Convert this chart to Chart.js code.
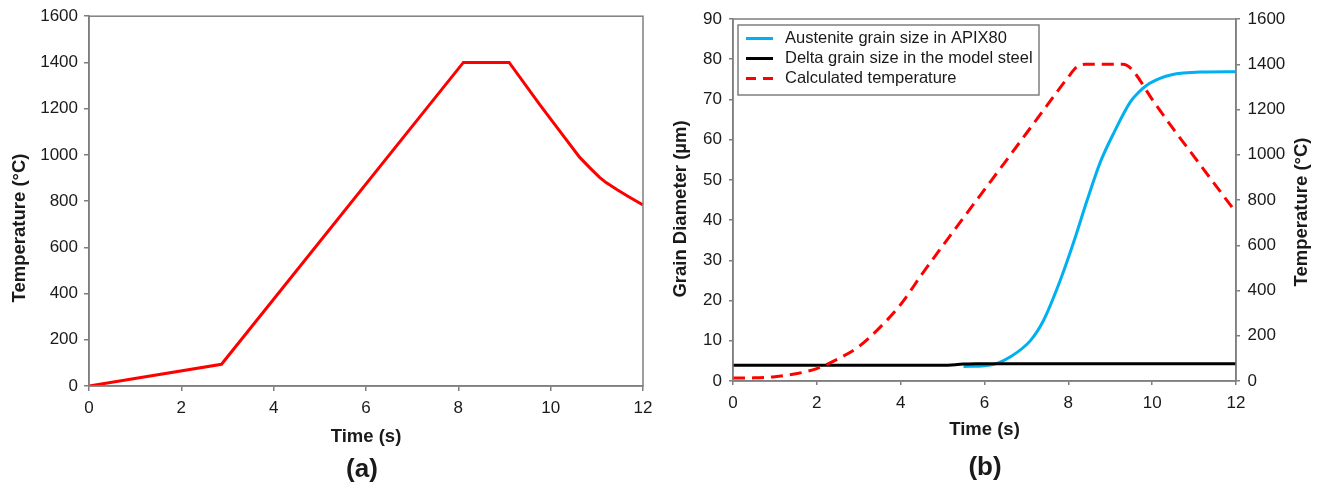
<!DOCTYPE html>
<html>
<head>
<meta charset="utf-8">
<script src="https://cdn.jsdelivr.net/npm/chart.js@4.4.1/dist/chart.umd.min.js"></script>
<style>
  html, body { margin: 0; padding: 0; background: #fff; }
  #wrap { position: relative; width: 1324px; height: 489px; }
  canvas { position: absolute; top: 0; }
  #chartA { left: 0; }
  #chartB { left: 660px; }
</style>
</head>
<body>
<div id="wrap">
  <canvas id="chartA" width="660" height="489"></canvas>
  <canvas id="chartB" width="664" height="489"></canvas>
</div>
<script>
// (a) imposed thermal cycle
const timeA = [0, 2.87, 8.11, 9.10, 9.76, 10.30, 10.63, 10.85, 11.06, 11.20, 11.45, 11.70, 12.0]
const tempA = [0, 94, 1400, 1400, 1219, 1076, 989, 944, 903, 880, 848, 818, 783]

// (b) calculated temperature (right axis)
const timeTemp = [0, 0.5, 1.0, 1.5, 2.0, 2.5, 3.0, 3.5, 4.0, 4.5, 5.0, 5.5, 6.0, 6.5, 7.0, 7.5, 8.0, 8.2, 8.4, 9.3, 9.5, 10.0, 10.5, 11.0, 11.5, 12.0]
const tempB = [13, 14, 19, 32, 55, 97, 152, 236, 338, 470, 597, 722, 846, 970, 1095, 1220, 1344, 1388, 1400, 1400, 1380, 1245, 1115, 992, 868, 745]

// (b) austenite grain size in APIX80 (left axis)
const timeGamma = [5.5, 6.0, 6.3, 6.62, 7.1, 7.41, 7.81, 8.13, 8.45, 8.77, 9.1, 9.48, 9.7, 9.88, 10.2, 10.44, 11.15, 12.0]
const sizeGamma = [3.6, 3.8, 4.4, 6.0, 10.1, 15.1, 25.1, 34.6, 45.0, 54.6, 62.0, 69.4, 72.0, 73.6, 75.3, 76.1, 76.8, 76.9]

// (b) delta grain size in the model steel (left axis)
const timeDelta = [0, 5.0, 5.5, 5.8, 12.0]
const sizeDelta = [3.9, 3.9, 4.2, 4.3, 4.3]

const timeTicks = { min: 0, max: 12, step: 2 }
const tempTicks = { min: 0, max: 1600, step: 200 }
const sizeTicks = { min: 0, max: 90, step: 10 }

const FONT = "'Liberation Sans', Arial, sans-serif"
const AXIS_GRAY = '#7f7f7f'
const INK = '#1a1a1a'

const pts = (xs, ys) => xs.map((x, i) => ({ x, y: ys[i] }))

const linearAxis = (range, tickLength, padding) => ({
  type: 'linear',
  min: range.min,
  max: range.max,
  ticks: {
    stepSize: range.step,
    padding,
    color: INK,
    font: { family: FONT, size: 17 },
    callback: (v) => String(v),
  },
  grid: { drawOnChartArea: false, drawTicks: true, tickLength, color: AXIS_GRAY, lineWidth: 1.5 },
  border: { color: AXIS_GRAY, width: 1.5 },
})

const timeTitle = (bottom) => ({
  display: true,
  text: 'Time (s)',
  color: INK,
  font: { family: FONT, size: 18.5, weight: 'bold' },
  padding: { top: 0, bottom },
})

// box around the plot area (top and right edges are not axes)
const plotFrame = {
  id: 'plotFrame',
  afterDraw(chart) {
    const { ctx, chartArea: a } = chart
    ctx.save()
    ctx.strokeStyle = AXIS_GRAY
    ctx.lineWidth = 1.5
    ctx.strokeRect(a.left, a.top, a.right - a.left, a.bottom - a.top)
    ctx.restore()
  },
}

// free text: rotated axis titles and panel letters
const sideText = {
  id: 'sideText',
  afterDraw(chart, args, opts) {
    const ctx = chart.ctx
    for (const it of opts.items || []) {
      ctx.save()
      ctx.translate(it.x, it.y)
      ctx.rotate(it.rotation || 0)
      ctx.font = `bold ${it.size}px ${FONT}`
      ctx.fillStyle = INK
      ctx.textAlign = 'center'
      ctx.textBaseline = 'middle'
      ctx.fillText(it.text, 0, 0)
      ctx.restore()
    }
  },
}

// framed legend in the upper left of the plot
const boxedLegend = {
  id: 'boxedLegend',
  afterDatasetsDraw(chart, args, opts) {
    const ctx = chart.ctx
    ctx.save()
    ctx.fillStyle = '#fff'
    ctx.fillRect(opts.x, opts.y, opts.width, opts.height)
    ctx.strokeStyle = AXIS_GRAY
    ctx.lineWidth = 1.5
    ctx.strokeRect(opts.x, opts.y, opts.width, opts.height)
    ctx.font = `${opts.fontSize}px ${FONT}`
    ctx.textBaseline = 'middle'
    chart.data.datasets.forEach((ds, i) => {
      const y = opts.y + opts.firstRow + i * opts.rowGap
      ctx.beginPath()
      ctx.setLineDash(ds.borderDash ? opts.sampleDash : [])
      ctx.strokeStyle = ds.borderColor
      ctx.lineWidth = ds.borderWidth
      ctx.moveTo(opts.sampleX, y)
      ctx.lineTo(opts.sampleX + opts.sampleLen, y)
      ctx.stroke()
      ctx.fillStyle = INK
      ctx.fillText(ds.label, opts.textX, y)
    })
    ctx.restore()
  },
}

new Chart(document.getElementById('chartA'), {
  type: 'line',
  data: {
    datasets: [
      {
        label: 'Temperature',
        data: pts(timeA, tempA),
        borderColor: '#ff0000',
        borderWidth: 3,
        pointRadius: 0,
        tension: 0,
        fill: false,
      },
    ],
  },
  options: {
    responsive: false,
    animation: false,
    layout: { padding: { left: 0, right: 17, top: 15, bottom: 0 } },
    plugins: {
      legend: { display: false },
      tooltip: { enabled: false },
      sideText: {
        items: [
          { text: 'Temperature (°C)', x: 20, y: 228, rotation: -Math.PI / 2, size: 18.5 },
          { text: '(a)', x: 362, y: 470, size: 26 },
        ],
      },
    },
    scales: {
      x: {
        ...linearAxis(timeTicks, 5, 7),
        title: timeTitle(41),
        afterFit: (s) => { s.height = 103 },
      },
      y: {
        ...linearAxis(tempTicks, 5, 6),
        afterFit: (s) => { s.width = 89 },
      },
    },
  },
  plugins: [plotFrame, sideText],
})

new Chart(document.getElementById('chartB'), {
  type: 'line',
  data: {
    datasets: [
      {
        label: 'Austenite grain size in APIX80',
        data: pts(timeGamma, sizeGamma),
        yAxisID: 'y',
        borderColor: '#00b0f0',
        borderWidth: 3,
        pointRadius: 0,
        cubicInterpolationMode: 'monotone',
        fill: false,
        order: 2,
      },
      {
        label: 'Delta grain size in the model steel',
        data: pts(timeDelta, sizeDelta),
        yAxisID: 'y',
        borderColor: '#000000',
        borderWidth: 3,
        pointRadius: 0,
        cubicInterpolationMode: 'monotone',
        fill: false,
        order: 1,
      },
      {
        label: 'Calculated temperature',
        data: pts(timeTemp, tempB),
        yAxisID: 'y1',
        borderColor: '#ff0000',
        borderWidth: 3,
        borderDash: [12, 7],
        pointRadius: 0,
        cubicInterpolationMode: 'monotone',
        fill: false,
        order: 0,
      },
    ],
  },
  options: {
    responsive: false,
    animation: false,
    layout: { padding: { left: 0, right: 0, top: 19, bottom: 0 } },
    plugins: {
      legend: { display: false },
      tooltip: { enabled: false },
      boxedLegend: {
        x: 78, y: 25, width: 301, height: 70,
        firstRow: 13.5, rowGap: 20,
        sampleX: 86, sampleLen: 27, sampleDash: [10, 7],
        textX: 125, fontSize: 16.5,
      },
      sideText: {
        items: [
          { text: 'Grain Diameter (µm)', x: 20.5, y: 209, rotation: -Math.PI / 2, size: 18.5 },
          { text: 'Temperature (°C)', x: 642, y: 212, rotation: -Math.PI / 2, size: 18.5 },
          { text: '(b)', x: 325, y: 468, size: 26 },
        ],
      },
    },
    scales: {
      x: {
        ...linearAxis(timeTicks, 4, 8),
        title: timeTitle(48),
        afterFit: (s) => { s.height = 108 },
      },
      y: {
        ...linearAxis(sizeTicks, 4, 7),
        position: 'left',
        afterFit: (s) => { s.width = 73 },
      },
      y1: {
        ...linearAxis(tempTicks, 4, 7.5),
        position: 'right',
        afterFit: (s) => { s.width = 88 },
      },
    },
  },
  plugins: [plotFrame, boxedLegend, sideText],
})
</script>
</body>
</html>
